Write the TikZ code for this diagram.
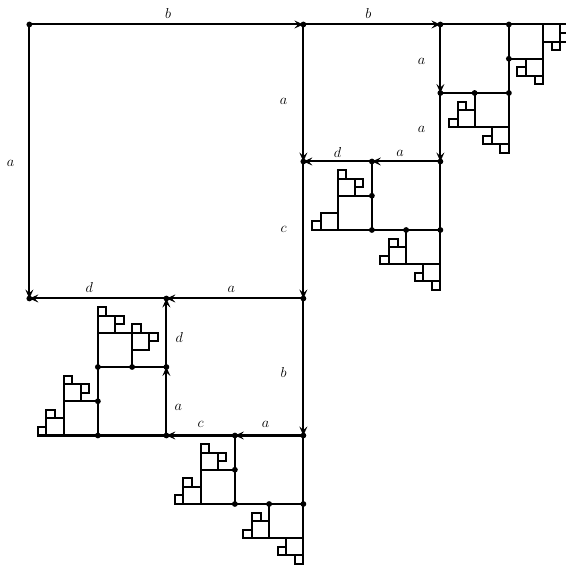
\documentclass[tikz,border=0pt]{standalone}
\usetikzlibrary{arrows.meta}
\tikzset{
  edge/.style={line width=2pt},
  tile/.style={line width=2pt},
  dot/.style={fill=black},
  lab/.style={font=\Large, inner sep=0pt}
}
\begin{document}
\begin{tikzpicture}[x=8.5625pt, y=-8.5625pt, >={Stealth[length=9pt,width=8pt,inset=3.5pt]}]
  \path[use as bounding box, clip] (-3.43,-2.86) rectangle (62.672,63.008);

  % Corners
  \coordinate (O) at (0,0);
  \coordinate (T1) at (32,0);
  \coordinate (T2) at (48,0);
  \coordinate (E) at (62.8,0);
  \coordinate (R1) at (32,16);
  \coordinate (R2) at (40,16);
  \coordinate (R3) at (48,16);
  \coordinate (R4) at (48,8);
  \coordinate (L1) at (0,32);
  \coordinate (L2) at (16,32);
  \coordinate (L3) at (32,32);
  \coordinate (B1) at (16,48);
  \coordinate (B2) at (24,48);
  \coordinate (B3) at (32,48);
  \coordinate (B4) at (16,40);
  \coordinate (Z) at (32,63.1);
  \coordinate (Y) at (48,31);

  % Squares of the staircase
  \foreach \x/\y/\s in {
    40/16/8, 36/20/4, 36/18/2, 36/17/1, 38/18/1, 34/22/2, 33/23/1,
    44/24/4, 42/26/2, 42/25/1, 41/27/1, 46/28/2, 45/29/1, 47/30/1,
    48/0/8, 52/8/4, 50/10/2, 50/9/1, 49/11/1, 54/12/2, 53/13/1, 55/14/1,
    56/0/4, 58/4/2, 57/5/1, 59/6/1, 60/0/2, 61/2/1, 62/1/1,
    24/48/8, 20/52/4, 20/50/2, 20/49/1, 22/50/1, 18/54/2, 18/53/1, 17/55/1,
    28/56/4, 26/58/2, 26/57/1, 25/59/1, 30/60/2, 29/61/1, 31/62/1,
    8/40/8, 8/36/4, 8/34/2, 8/33/1, 10/34/1, 12/36/2, 12/35/1, 14/36/1,
    4/44/4, 4/42/2, 4/41/1, 6/42/1, 2/46/2, 2/45/1, 1/47/1}
    \draw[tile] (\x,\y) rectangle ++(\s,\s);

  % Long sides with arrows
  \draw[edge] (T2) -- (E);
  \draw[edge] (R3) -- (Y);
  \draw[edge] (B3) -- (Z);
  \draw[edge, ->] (O) -- (T1);
  \draw[edge, ->] (T1) -- (T2);
  \draw[edge, ->] (O) -- (L1);
  \draw[edge, ->] (T1) -- (R1);
  \draw[edge, ->] (R1) -- (L3);
  \draw[edge, ->] (L3) -- (B3);
  \draw[edge, ->] (L3) -- (L2);
  \draw[edge, ->] (L2) -- (L1);
  \draw[edge, ->] (T2) -- (R4);
  \draw[edge, ->] (R4) -- (R3);
  \draw[edge, ->] (R3) -- (R2);
  \draw[edge, ->] (R2) -- (R1);
  \draw[edge, ->] (B3) -- (B2);
  \draw[edge, ->] (B2) -- (B1);
  \draw[edge, ->] (B1) -- (B4);
  \draw[edge, ->] (B4) -- (L2);

  % Dots
  \foreach \x/\y in {
    0/0, 32/0, 48/0, 56/0, 32/16, 40/16, 48/16, 40/20, 40/24, 44/24, 48/24,
    48/8, 52/8, 56/8, 56/4, 0/32, 16/32, 32/32, 16/40, 12/40, 8/40, 8/44,
    8/48, 16/48, 24/48, 32/48, 24/52, 24/56, 28/56, 32/56}
    \fill[dot] (\x,\y) circle (2.9pt);

  % Labels
  \node[lab] (b1) at (16.2,-1.3) {$b$};
  \node[lab] (b2) at (39.6,-1.3) {$b$};
  \node[lab] (a1) at (-2.2,16.2) {$a$};
  \node[lab] (a2) at (29.7,9) {$a$};
  \node[lab] (a3) at (45.8,4.3) {$a$};
  \node[lab] (a4) at (45.8,12.3) {$a$};
  \node[lab] (a5) at (43.3,15) {$a$};
  \node[lab] (d1) at (36,14.9) {$d$};
  \node[lab] (c1) at (29.7,23.9) {$c$};
  \node[lab] (a6) at (23.6,30.9) {$a$};
  \node[lab] (d2) at (7,30.7) {$d$};
  \node[lab] (d3) at (17.5,36.6) {$d$};
  \node[lab] (a7) at (17.4,44.7) {$a$};
  \node[lab] (b3) at (29.7,40.6) {$b$};
  \node[lab] (c2) at (20,46.7) {$c$};
  \node[lab] (a8) at (27.6,46.7) {$a$};
\end{tikzpicture}
\end{document}
